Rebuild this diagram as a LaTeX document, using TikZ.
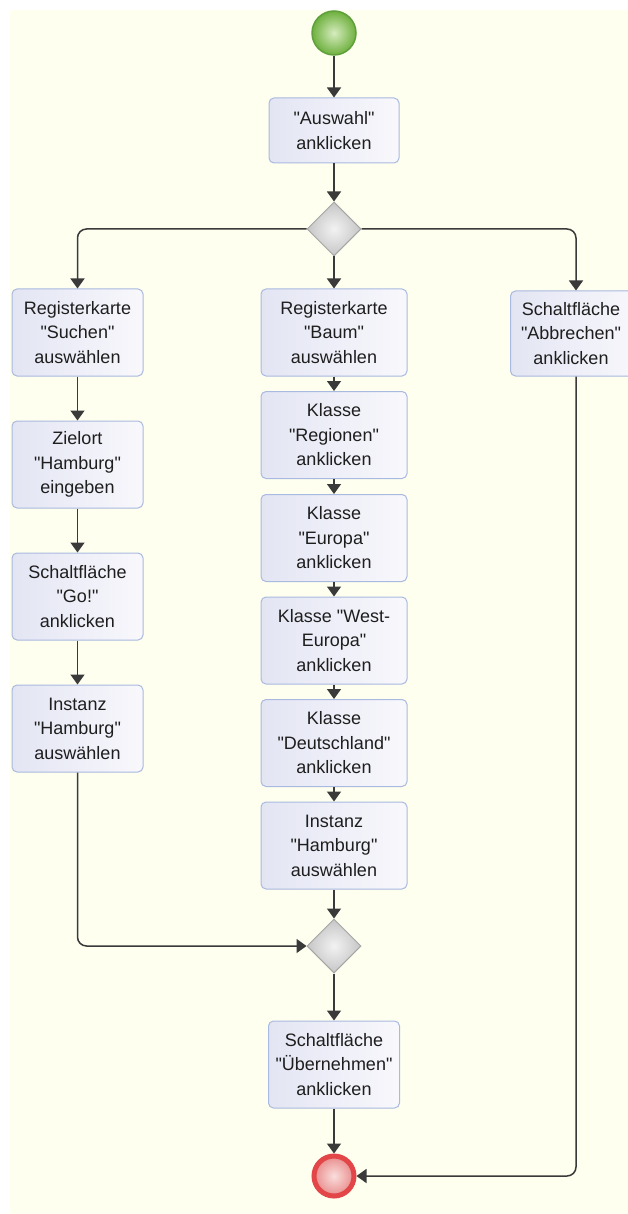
\documentclass[tikz,border=0pt]{standalone}
\usepackage{fontspec}
\setmainfont{Liberation Sans}
\usetikzlibrary{shapes.geometric,arrows.meta}
\definecolor{bgcream}{HTML}{FEFFEF}
\definecolor{boxborder}{HTML}{A9B9DF}
\definecolor{boxleft}{HTML}{E3E5F3}
\definecolor{boxright}{HTML}{F8F8FC}
\definecolor{linecol}{HTML}{3A3A3A}
\definecolor{txtcol}{HTML}{1E1E1E}
\newcommand{\qd}{\textquotedbl}
\tikzset{
  actbox/.style={draw=boxborder, line width=1pt, rounded corners=5pt,
    left color=boxleft, right color=boxright, align=center, inner sep=2pt,
    text=txtcol, font=\fontsize{18}{24.5}\selectfont},
  colL/.style={actbox, minimum width=131pt, minimum height=87pt},
  colM/.style={actbox, minimum width=146pt, minimum height=87pt},
  gate/.style={diamond, draw=gray!70, line width=1pt, inner sep=0pt,
    minimum width=54pt, minimum height=54pt, inner color=gray!10, outer color=gray!45},
  conn/.style={draw=linecol, line width=1.5pt, rounded corners=9pt,
    -{Triangle[length=10pt,width=14pt]}},
}
\begin{document}
\begin{tikzpicture}[x=1pt,y=-1pt]
\useasboundingbox (0,0) rectangle (628,1214);
\clip (0,0) rectangle (628,1214);
\fill[white] (0,0) rectangle (628,1214);
\fill[bgcream] (10,10) rectangle (628,1214);

\node[circle, draw={rgb,255:red,96;green,160;blue,60}, line width=1.5pt, minimum size=44pt,
  inner color={rgb,255:red,214;green,236;blue,190}, outer color={rgb,255:red,110;green,176;blue,62}] (start) at (334,33) {};
\node[actbox, minimum width=130pt, minimum height=65pt] (auswahl) at (334,130.5) {\qd Auswahl\qd\\anklicken};
\node[gate] (d1) at (334,229) {};

\node[colL] (suchen) at (77.5,332.5) {Registerkarte\\\qd Suchen\qd\\auswählen};
\node[colL] (zielort) at (77.5,464.5) {Zielort\\\qd Hamburg\qd\\eingeben};
\node[colL] (go) at (77.5,596.5) {Schaltfläche\\\qd Go!\qd\\anklicken};
\node[colL] (inst1) at (77.5,728.5) {Instanz\\\qd Hamburg\qd\\auswählen};

\node[colM] (baum) at (334,332.5) {Registerkarte\\\qd Baum\qd\\auswählen};
\node[colM] (regionen) at (334,435) {Klasse\\\qd Regionen\qd\\anklicken};
\node[colM] (europa) at (334,538) {Klasse\\\qd Europa\qd\\anklicken};
\node[colM] (west) at (334,640.5) {Klasse \qd West-\\Europa\qd\\anklicken};
\node[colM] (deutsch) at (334,743) {Klasse\\\qd Deutschland\qd\\anklicken};
\node[colM] (inst2) at (334,845.5) {Instanz\\\qd Hamburg\qd\\auswählen};

\node[colL, minimum height=85pt, text width=110pt] (abbr) at (576,333.5) {\hspace*{-10pt}Schaltfläche\\\hspace*{-10pt}\qd Abbrechen\qd\\\hspace*{-10pt}anklicken};

\node[gate] (d2) at (334,946) {};
\node[colL] (ueber) at (334,1064.5) {Schaltfläche\\\qd Übernehmen\qd\\anklicken};

\node[circle, draw={rgb,255:red,226;green,70;blue,72}, line width=5pt, minimum size=40pt,
  inner color={rgb,255:red,250;green,222;blue,220}, outer color={rgb,255:red,232;green,140;blue,140}] (end) at (334,1176) {};

\draw[conn] (start) -- (auswahl);
\draw[conn] (auswahl) -- (d1);
\draw[conn] (d1.west) -| (suchen.north);
\draw[conn] (d1.south) -- (baum.north);
\draw[conn] (d1.east) -| (abbr.north);
\draw[conn] (suchen) -- (zielort);
\draw[conn] (zielort) -- (go);
\draw[conn] (go) -- (inst1);
\draw[conn] (baum) -- (regionen);
\draw[conn] (regionen) -- (europa);
\draw[conn] (europa) -- (west);
\draw[conn] (west) -- (deutsch);
\draw[conn] (deutsch) -- (inst2);
\draw[conn] (inst2) -- (d2);
\draw[conn] (inst1.south) |- (d2.west);
\draw[conn] (d2.south) -- (ueber.north);
\draw[conn] (ueber) -- (end);
\draw[conn] (abbr.south) |- (end.east);
\end{tikzpicture}
\end{document}
